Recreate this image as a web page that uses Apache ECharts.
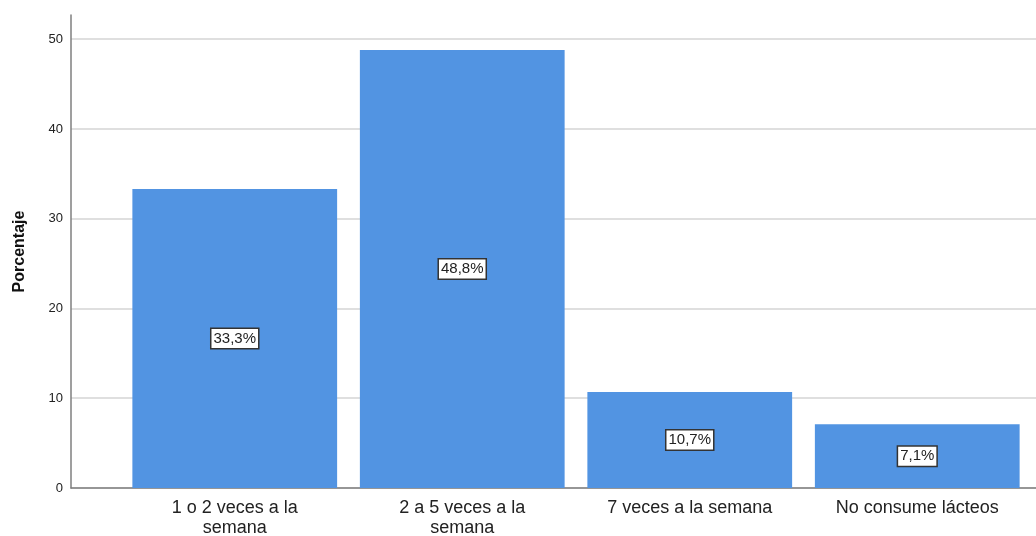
<!DOCTYPE html>
<html>
<head>
<meta charset="utf-8">
<script src="https://cdn.jsdelivr.net/npm/echarts@6/dist/echarts.min.js"></script>
<style>html,body{margin:0;padding:0;background:#fff}#c{width:1036px;height:536px}</style>
</head>
<body>
<div id="c"></div>
<script>
const categories = ['1 o 2 veces a la\nsemana', '2 a 5 veces a la\nsemana', '7 veces a la semana', 'No consume lácteos'];
const values = [33.3, 48.8, 10.7, 7.1];
const yTicks = [0, 10, 20, 30, 40, 50];
const yName = 'Porcentaje';

const chart = echarts.init(document.getElementById('c'), null, {renderer: 'canvas'});
const yMax = 52.7;
chart.setOption({
  animation: false,
  textStyle: {fontFamily: 'Liberation Sans, Arial, sans-serif'},
  grid: [
    {left: 71, right: 0, top: 15, bottom: 48, containLabel: false, outerBoundsMode: 'none'},
    {left: 121, right: 5, top: 15, bottom: 48, containLabel: false, outerBoundsMode: 'none'}
  ],
  xAxis: [
    {gridIndex: 0, type: 'value', min: 0, max: 1, show: true,
     axisLine: {show: true, lineStyle: {color: '#7f7f7f', width: 1.5}},
     axisTick: {show: false}, axisLabel: {show: false}, splitLine: {show: false}},
    {gridIndex: 1, type: 'category', data: categories,
     axisLine: {show: false}, axisTick: {show: false},
     axisLabel: {color: '#222', fontSize: 18, lineHeight: 20, margin: 10, interval: 0}}
  ],
  yAxis: [
    {gridIndex: 0, type: 'value', min: 0, max: yMax, interval: 10,
     name: yName, nameLocation: 'middle', nameGap: 43, nameRotate: 90,
     nameTextStyle: {fontSize: 16, fontWeight: 'bold', color: '#111'},
     axisLine: {show: true, lineStyle: {color: '#7f7f7f', width: 1.5}},
     axisTick: {show: false},
     axisLabel: {color: '#222', fontSize: 13, margin: 8, showMaxLabel: false,
       formatter: v => yTicks.includes(v) ? String(v) : ''},
     splitLine: {show: true, showMaxLine: false, lineStyle: {color: '#d4d4d4', width: 1.5}}},
    {gridIndex: 1, type: 'value', min: 0, max: yMax, interval: 10, show: false,
     splitLine: {show: false}}
  ],
  series: [{
    type: 'bar', xAxisIndex: 1, yAxisIndex: 1,
    data: values, barCategoryGap: '10%',
    itemStyle: {color: '#5294e2'},
    label: {show: true, position: 'inside', color: '#222', fontSize: 15,
      backgroundColor: '#fff', borderColor: '#333', borderWidth: 1.5,
      padding: [3, 2, 1, 2],
      formatter: p => p.value.toFixed(1).replace('.', ',') + '%'}
  }]
});
</script>
</body>
</html>
